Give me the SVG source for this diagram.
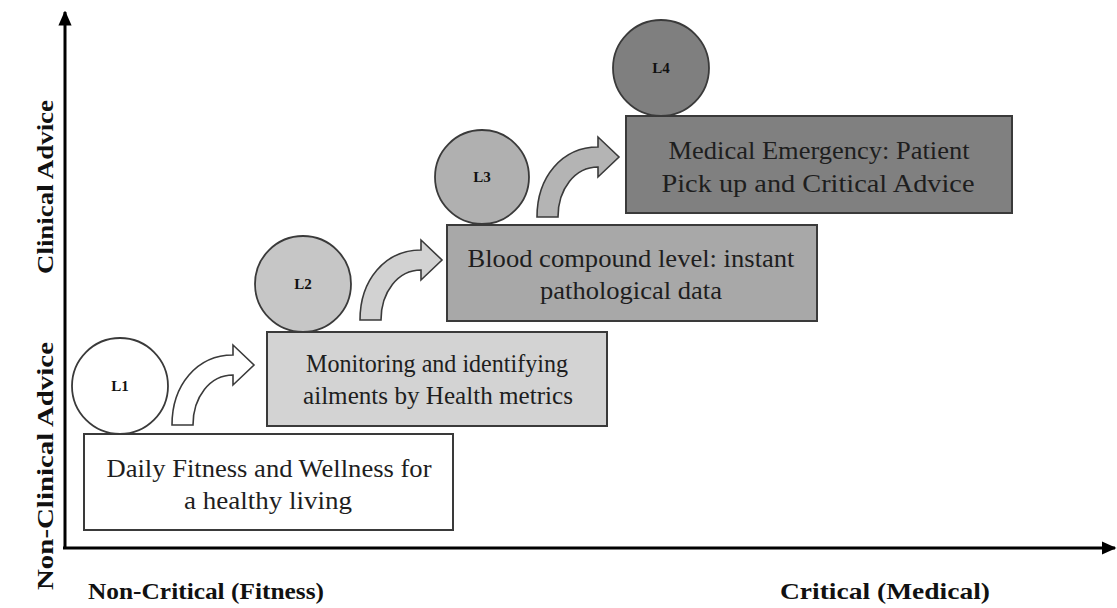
<svg xmlns="http://www.w3.org/2000/svg" width="1117" height="608" viewBox="0 0 1117 608">
<style>
.box{stroke:#3a3a3a;stroke-width:2}
.circ{stroke:#3a3a3a;stroke-width:1.8}
.arr{stroke:#3a3a3a;stroke-width:1.6;stroke-linejoin:miter}
.t{font-family:"Liberation Serif",serif;font-size:26px;fill:#1e1e1e;text-anchor:middle}
.lbl{font-family:"Liberation Serif",serif;font-size:15px;font-weight:bold;fill:#111;text-anchor:middle}
.ax{font-family:"Liberation Serif",serif;font-size:24px;font-weight:bold;fill:#111;text-anchor:middle}
.axis{stroke:#000;stroke-width:3;fill:none}
</style>
<defs>
<path id="curv" d="M0,0 C0,-40 25,-70 61,-70 L61,-80 L82,-60 L61,-40 L61,-50 C38,-50 21,-28 21,0 Z"/>
<marker id="ah" markerWidth="5" markerHeight="4.4" refX="4.5" refY="2.2" orient="auto" markerUnits="strokeWidth">
<path d="M0,0 L5,2.2 L0,4.4 Z" fill="#000"/>
</marker>
</defs>
<g id="axes">
<line class="axis" x1="65" y1="548" x2="65" y2="12" marker-end="url(#ah)"/>
<line class="axis" x1="63" y1="548" x2="1115" y2="548" marker-end="url(#ah)"/>
<text class="ax" transform="translate(53,187) rotate(-90)" textLength="174" lengthAdjust="spacingAndGlyphs">Clinical Advice</text>
<text class="ax" transform="translate(53,466) rotate(-90)" textLength="248" lengthAdjust="spacingAndGlyphs">Non-Clinical Advice</text>
<text class="ax" x="206" y="599" textLength="236" lengthAdjust="spacingAndGlyphs">Non-Critical (Fitness)</text>
<text class="ax" x="885" y="599" textLength="210" lengthAdjust="spacingAndGlyphs">Critical (Medical)</text>
</g>
<g id="connectors">
<use href="#curv" x="172" y="425" class="arr" fill="#ffffff"/>
<use href="#curv" x="360" y="320" class="arr" fill="#d2d2d2"/>
<use href="#curv" x="537" y="217" class="arr" fill="#b4b4b4"/>
</g>
<g id="L1">
<rect class="box" x="84" y="434" width="369" height="96" fill="#ffffff"/>
<text class="t" x="269" y="477" textLength="325" lengthAdjust="spacingAndGlyphs">Daily Fitness and Wellness for</text>
<text class="t" x="268" y="509" textLength="168" lengthAdjust="spacingAndGlyphs">a healthy living</text>
<circle class="circ" cx="120" cy="386" r="48" fill="#ffffff"/>
<text class="lbl" x="120" y="391">L1</text>
</g>
<g id="L2">
<rect class="box" x="267" y="332" width="340" height="94" fill="#d3d3d3"/>
<text class="t" x="437" y="372" textLength="262" lengthAdjust="spacingAndGlyphs">Monitoring and identifying</text>
<text class="t" x="438" y="404" textLength="270" lengthAdjust="spacingAndGlyphs">ailments by Health metrics</text>
<circle class="circ" cx="303" cy="284" r="48" fill="#c6c6c6"/>
<text class="lbl" x="303" y="289">L2</text>
</g>
<g id="L3">
<rect class="box" x="447" y="225" width="370" height="96" fill="#a8a8a8"/>
<text class="t" x="631" y="267" textLength="327" lengthAdjust="spacingAndGlyphs">Blood compound level: instant</text>
<text class="t" x="631" y="299" textLength="182" lengthAdjust="spacingAndGlyphs">pathological data</text>
<circle class="circ" cx="482" cy="177" r="47" fill="#b0b0b0"/>
<text class="lbl" x="482" y="182">L3</text>
</g>
<g id="L4">
<rect class="box" x="626" y="116" width="386" height="97" fill="#808080"/>
<text class="t" x="819" y="159" textLength="301" lengthAdjust="spacingAndGlyphs">Medical Emergency: Patient</text>
<text class="t" x="818" y="192" textLength="313" lengthAdjust="spacingAndGlyphs">Pick up and Critical Advice</text>
<circle class="circ" cx="661" cy="68" r="48" fill="#7f7f7f"/>
<text class="lbl" x="661" y="73">L4</text>
</g>
</svg>
